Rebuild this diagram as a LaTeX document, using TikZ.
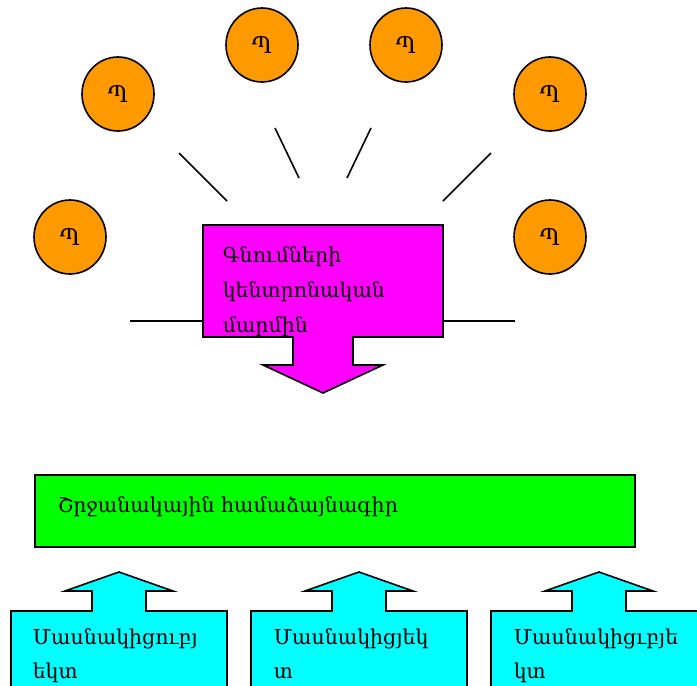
\documentclass[tikz,border=0pt]{standalone}
\usepackage{fontspec}
\setmainfont{DejaVu Serif}
\usetikzlibrary{shapes.geometric}
\definecolor{orangeP}{RGB}{255,153,0}
\definecolor{magP}{RGB}{255,0,255}
\definecolor{greenP}{RGB}{0,255,0}
\definecolor{cyanP}{RGB}{0,255,255}
\begin{document}
\begin{tikzpicture}[x=1pt,y=-1pt,line width=1.6pt,
  pcirc/.style={ellipse,draw,fill=orangeP,minimum width=72pt,minimum height=74pt,inner sep=0pt,font=\fontsize{23}{25}\selectfont},
  lbl/.style={anchor=base west,inner sep=0pt,font=\fontsize{20.5}{24}\selectfont},
  shapeline/.style={draw,line join=miter}]
\useasboundingbox (0,0) rectangle (697,686);
% circles
\node[pcirc] (c1) at (70,237) {Պ};
\node[pcirc] (c2) at (118,94) {Պ};
\node[pcirc] (c3) at (262,45) {Պ};
\node[pcirc] (c4) at (406,45) {Պ};
\node[pcirc] (c5) at (550,94) {Պ};
\node[pcirc] (c6) at (550,237) {Պ};
% spokes
\coordinate (s1a) at (179,153); \coordinate (s1b) at (227,201);
\coordinate (s2a) at (275,128); \coordinate (s2b) at (299,178);
\coordinate (s3a) at (371,128); \coordinate (s3b) at (347,178);
\coordinate (s4a) at (491,153); \coordinate (s4b) at (443,201);
\coordinate (h1a) at (130,321); \coordinate (h1b) at (203,321);
\coordinate (h2a) at (443,321); \coordinate (h2b) at (515,321);
\draw (s1a) -- (s1b);
\draw (s2a) -- (s2b);
\draw (s3a) -- (s3b);
\draw (s4a) -- (s4b);
\draw (h1a) -- (h1b);
\draw (h2a) -- (h2b);
% magenta callout
\draw[shapeline,fill=magP] (203,225) -- (443,225) -- (443,337) -- (353,337) -- (353,365) -- (383,365)
  -- (323,393) -- (263,365) -- (293,365) -- (293,337) -- (203,337) -- cycle;
\node[lbl] (m1) at (222,262) {Գնումների};
\node[lbl] (m2) at (222,297) {կենտրոնական};
\node[lbl] (m3) at (222,332) {մարմին};
% green box
\draw[fill=greenP] (35,475) rectangle (635,547);
\node[lbl] (g1) at (57,512) {Շրջանակային համաձայնագիր};
% cyan callouts
\foreach \dx in {0,240,480}{
  \draw[shapeline,fill=cyanP] ([xshift=\dx]11,700) -- ([xshift=\dx]11,611) -- ([xshift=\dx]92,611) -- ([xshift=\dx]92,591)
    -- ([xshift=\dx]65,591) -- ([xshift=\dx]119,572) -- ([xshift=\dx]173,591) -- ([xshift=\dx]146,591)
    -- ([xshift=\dx]146,611) -- ([xshift=\dx]227,611) -- ([xshift=\dx]227,700);
}
\node[lbl] (a1) at (32,644) {Մասնակիցուբյ};
\node[lbl] (a2) at (32,678) {եկտ};
\node[lbl] (b1) at (273,644) {Մասնակիցյեկ};
\node[lbl] (b2) at (273,678) {տ};
\node[lbl] (d1) at (513,644) {Մասնակիցւբյե};
\node[lbl] (d2) at (513,678) {կտ};
\end{tikzpicture}
\end{document}
